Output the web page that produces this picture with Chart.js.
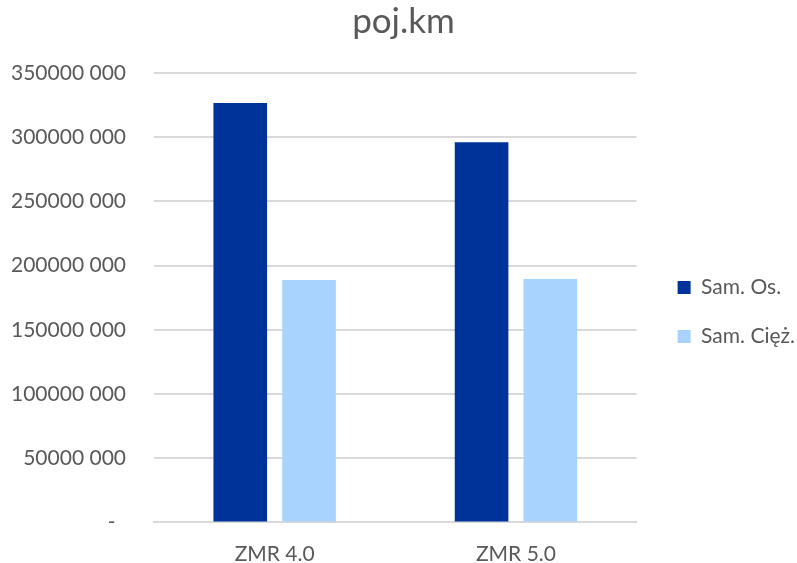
<!DOCTYPE html>
<html>
<head>
<meta charset="utf-8">
<script src="https://cdn.jsdelivr.net/npm/chart.js@4/dist/chart.umd.min.js"></script>
<style>
  html, body { margin: 0; padding: 0; background: #fff; }
  #wrap { width: 797px; height: 563px; position: relative; }
</style>
</head>
<body>
<div id="wrap"><canvas id="canvas" width="797" height="563"></canvas></div>
<script>
// data
const categories = ['ZMR 4.0', 'ZMR 5.0'];
const samOs = [326700000, 296100000];
const samCiez = [188800000, 189600000];
const seriesNames = ['Sam. Os.', 'Sam. Cięż.'];

const textColor = '#595959';
const fontFamily = 'Lato, "Open Sans", sans-serif';

// 350000 000 style labels, zero shown as a dash (with a bit of space after it)
function fmt(v) {
  if (v === 0) return '-\u2002';
  return Math.floor(v / 1000) + ' ' + String(v % 1000).padStart(3, '0');
}

// nudge the legend and the title, like in the original
const nudge = {
  id: 'nudge',
  afterLayout(chart) {
    const lg = chart.legend;
    if (lg) {
      lg.top += 42;
      lg.left += 13;
      lg.right += 13;
    }
    const tb = chart.titleBlock;
    if (tb) {
      tb.left += 16;
      tb.right += 16;
    }
  }
};

var ctx = document.getElementById('canvas').getContext('2d');
var myChart = new Chart(ctx, {
  type: 'bar',
  data: {
    labels: categories,
    datasets: [
      { label: seriesNames[0], data: samOs, backgroundColor: '#003399' },
      { label: seriesNames[1], data: samCiez, backgroundColor: '#a9d3ff' }
    ]
  },
  options: {
    responsive: false,
    animation: false,
    categoryPercentage: 0.57,
    barPercentage: 0.78,
    layout: { padding: { left: -17, right: 5, top: 0, bottom: -19 } },
    plugins: {
      title: {
        display: true,
        text: 'poj.km',
        color: textColor,
        font: { family: fontFamily, size: 35, weight: 'normal' },
        padding: { top: 1, bottom: 30 }
      },
      legend: {
        position: 'right',
        labels: {
          color: textColor,
          boxWidth: 13,
          boxHeight: 13,
          padding: 28,
          font: { family: fontFamily, size: 21 }
        }
      },
      tooltip: { enabled: false }
    },
    scales: {
      x: {
        grid: { display: false },
        border: { color: '#d9d9d9', width: 2 },
        ticks: { color: textColor, font: { family: fontFamily, size: 21 }, padding: 11 }
      },
      y: {
        min: 0,
        max: 350000000,
        ticks: {
          stepSize: 50000000,
          color: textColor,
          font: { family: fontFamily, size: 21 },
          padding: 28,
          callback: v => fmt(v)
        },
        grid: { color: '#d9d9d9', lineWidth: 2, drawTicks: false },
        border: { display: false }
      }
    }
  },
  plugins: [nudge]
});
</script>
</body>
</html>
